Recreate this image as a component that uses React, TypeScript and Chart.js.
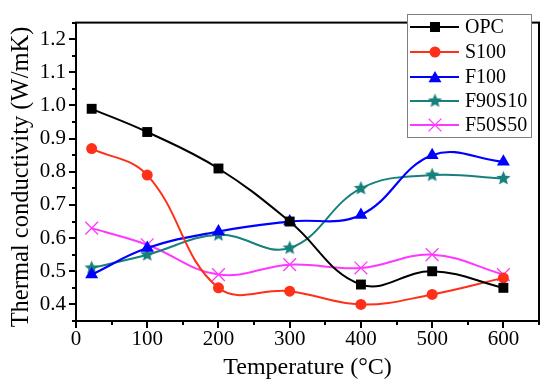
import React, { useEffect, useRef } from 'react';
import { Chart, registerables } from 'chart.js';

Chart.register(...registerables);

const temperatures = [22, 100, 200, 300, 400, 500, 600];
const opc = [0.99, 0.92, 0.81, 0.65, 0.46, 0.5, 0.45];
const s100 = [0.87, 0.79, 0.45, 0.44, 0.4, 0.43, 0.48];
const f100 = [0.49, 0.57, 0.62, 0.65, 0.67, 0.85, 0.83];
const f90s10 = [0.51, 0.55, 0.61, 0.57, 0.75, 0.79, 0.78];
const f50s50 = [0.63, 0.58, 0.49, 0.52, 0.51, 0.55, 0.49];

const seriesNames = ['OPC', 'S100', 'F100', 'F90S10', 'F50S50'];
const xMajorTicks = [0, 100, 200, 300, 400, 500, 600];
const xMinorTicks = [50, 150, 250, 350, 450, 550, 650];
const yMajorTicks = [0.4, 0.5, 0.6, 0.7, 0.8, 0.9, 1.0, 1.1, 1.2];
const yMinorTicks = [0.35, 0.45, 0.55, 0.65, 0.75, 0.85, 0.95, 1.05, 1.15, 1.25];
const xTitle = 'Temperature (°C)';
const yTitle = 'Thermal conductivity (W/mK)';

const FONT = '"Liberation Serif", "Times New Roman", serif';

function makeStar(color: string, r: number): HTMLCanvasElement {
  const c = document.createElement('canvas');
  const s = Math.ceil(2 * r + 2);
  c.width = s;
  c.height = s;
  const g = c.getContext('2d')!;
  const cx = s / 2;
  const cy = s / 2;
  g.beginPath();
  for (let i = 0; i < 10; i++) {
    const rr = i % 2 === 0 ? r : r * 0.45;
    const a = -Math.PI / 2 + (i * Math.PI) / 5;
    const px = cx + Math.cos(a) * rr;
    const py = cy + Math.sin(a) * rr;
    if (i === 0) g.moveTo(px, py);
    else g.lineTo(px, py);
  }
  g.closePath();
  g.fillStyle = color;
  g.fill();
  return c;
}

function toPoints(values: number[]) {
  return values.map((v, i) => ({ x: temperatures[i], y: v }));
}

export default function App() {
  const ref = useRef<HTMLCanvasElement>(null);

  useEffect(() => {
    document.body.style.margin = '0';
    const canvas = ref.current!;
    const teal = '#17807a';
    const star = makeStar(teal, 7.5);

    const styles = [
      { color: '#000000', pointStyle: 'rect', radius: 7, width: 2 },
      { color: '#ff3019', pointStyle: 'circle', radius: 5.5, width: 2 },
      { color: '#0000ff', pointStyle: 'triangle', radius: 7.5, width: 2.2 },
      { color: teal, pointStyle: star, radius: 7, width: 2 },
      { color: '#ff38ff', pointStyle: 'crossRot', radius: 9, width: 2 },
    ];
    const values = [opc, s100, f100, f90s10, f50s50];

    const framePlugin = {
      id: 'frameTicksLegend',
      afterDraw(chart: any) {
        const { ctx, chartArea } = chart;
        const { left, right, top, bottom } = chartArea;
        const xs = chart.scales.x;
        const ys = chart.scales.y;
        ctx.save();
        ctx.strokeStyle = '#000';
        ctx.lineWidth = 2;
        ctx.strokeRect(left, top, right - left, bottom - top);
        ctx.beginPath();
        xMajorTicks.forEach((v) => {
          const px = Math.round(xs.getPixelForValue(v));
          ctx.moveTo(px, bottom);
          ctx.lineTo(px, bottom + 7);
        });
        xMinorTicks.forEach((v) => {
          const px = Math.round(xs.getPixelForValue(v));
          ctx.moveTo(px, bottom);
          ctx.lineTo(px, bottom + 4);
        });
        yMajorTicks.forEach((v) => {
          const py = Math.round(ys.getPixelForValue(v));
          ctx.moveTo(left, py);
          ctx.lineTo(left - 7, py);
        });
        yMinorTicks.forEach((v) => {
          const py = Math.round(ys.getPixelForValue(v));
          ctx.moveTo(left, py);
          ctx.lineTo(left - 4, py);
        });
        ctx.stroke();

        // y axis title
        ctx.save();
        ctx.translate(22, 177);
        ctx.rotate(-Math.PI / 2);
        ctx.font = `24.5px ${FONT}`;
        ctx.fillStyle = '#000';
        ctx.textAlign = 'center';
        ctx.textBaseline = 'middle';
        ctx.fillText(yTitle, 0, 0);
        ctx.restore();

        // legend
        const lx = 407;
        const ly = 14;
        const lw = 124;
        const lh = 123;
        ctx.fillStyle = '#ffffff';
        ctx.fillRect(lx, ly, lw, lh);
        ctx.strokeStyle = '#7f7f7f';
        ctx.lineWidth = 1;
        ctx.strokeRect(lx + 0.5, ly + 0.5, lw, lh);
        const rowY = [27, 52, 77, 101, 125];
        ctx.font = `20px ${FONT}`;
        ctx.textBaseline = 'middle';
        ctx.textAlign = 'left';
        seriesNames.forEach((name, i) => {
          const st = styles[i];
          const y = rowY[i];
          ctx.strokeStyle = st.color;
          ctx.lineWidth = 2;
          ctx.beginPath();
          ctx.moveTo(410, y);
          ctx.lineTo(459, y);
          ctx.stroke();
          const cx = 435;
          ctx.fillStyle = st.color;
          ctx.beginPath();
          if (st.pointStyle === 'rect') {
            ctx.fillRect(cx - 5, y - 5, 10, 10);
          } else if (st.pointStyle === 'circle') {
            ctx.arc(cx, y, 5.5, 0, Math.PI * 2);
            ctx.fill();
          } else if (st.pointStyle === 'triangle') {
            const r = 7.5;
            for (let k = 0; k < 3; k++) {
              const a = -Math.PI / 2 + (k * 2 * Math.PI) / 3;
              const px = cx + Math.cos(a) * r;
              const py = y + 1.5 + Math.sin(a) * r;
              if (k === 0) ctx.moveTo(px, py);
              else ctx.lineTo(px, py);
            }
            ctx.closePath();
            ctx.fill();
          } else if (st.pointStyle === 'crossRot') {
            const d = 6.4;
            ctx.lineWidth = 1.3;
            ctx.moveTo(cx - d, y - d);
            ctx.lineTo(cx + d, y + d);
            ctx.moveTo(cx + d, y - d);
            ctx.lineTo(cx - d, y + d);
            ctx.stroke();
          } else {
            const img = st.pointStyle as HTMLCanvasElement;
            ctx.drawImage(img, cx - img.width / 2, y - img.height / 2);
          }
          ctx.fillStyle = '#000';
          ctx.fillText(name, 465, y + 1);
        });
        ctx.restore();
      },
    };

    const chart = new Chart(canvas, {
      type: 'line',
      data: {
        datasets: seriesNames.map((name, i) => ({
          label: name,
          data: toPoints(values[i]),
          borderColor: styles[i].color,
          backgroundColor: styles[i].color,
          borderWidth: styles[i].width,
          pointStyle: styles[i].pointStyle as any,
          pointRadius: styles[i].radius,
          pointBorderWidth: styles[i].pointStyle === 'crossRot' ? 1.3 : 0,
          pointBorderColor: styles[i].color,
          pointBackgroundColor: styles[i].color,
          tension: 0.4,
          fill: false,
          clip: false as any,
        })),
      },
      options: {
        animation: false,
        responsive: false,
        devicePixelRatio: 1,
        layout: { padding: { top: 10, right: 11, left: 0, bottom: 0 } },
        plugins: {
          legend: { display: false },
          tooltip: { enabled: false },
        },
        scales: {
          x: {
            type: 'linear',
            min: 0,
            max: 650,
            afterFit: (s: any) => {
              s.height = 64;
            },
            afterBuildTicks: (s: any) => {
              s.ticks = xMajorTicks.map((v) => ({ value: v }));
            },
            grid: { display: true, drawOnChartArea: false, drawTicks: false },
            border: { display: false },
            ticks: {
              padding: 6,
              color: '#000',
              font: { family: FONT, size: 21 },
              maxRotation: 0,
              autoSkip: false,
              callback: (v: any) => String(v),
            },
            title: {
              display: true,
              text: xTitle,
              color: '#000',
              font: { family: FONT, size: 24 },
              padding: { top: 0, bottom: 3 },
            },
          },
          y: {
            type: 'linear',
            min: 0.35,
            max: 1.25,
            afterFit: (s: any) => {
              s.width = 76;
            },
            afterBuildTicks: (s: any) => {
              s.ticks = yMajorTicks.map((v) => ({ value: v }));
            },
            grid: { display: true, drawOnChartArea: false, drawTicks: false },
            border: { display: false },
            ticks: {
              padding: 10,
              color: '#000',
              font: { family: FONT, size: 21 },
              autoSkip: false,
              callback: (v: any) => Number(v).toFixed(1),
            },
            title: { display: false },
          },
        },
      },
      plugins: [framePlugin],
    });

    return () => chart.destroy();
  }, []);

  return <canvas ref={ref} width={550} height={385} style={{ display: 'block', width: 550, height: 385 }} />;
}
